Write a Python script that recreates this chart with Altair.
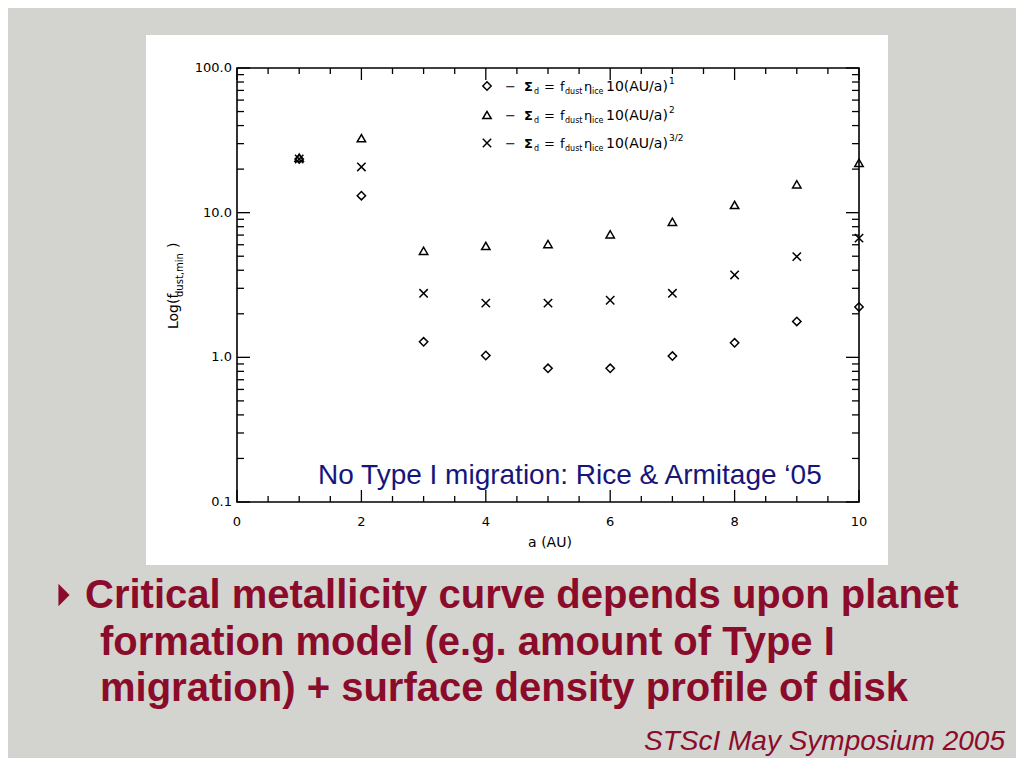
import altair as alt
import pandas as pd

# ---------------- data ----------------
a_au = [1, 2, 3, 4, 5, 6, 7, 8, 9, 10]
f_sigma_p1 = [23.5, 13.1, 1.28, 1.03, 0.84, 0.84, 1.02, 1.26, 1.77, 2.23]    # diamonds
f_sigma_p2 = [24.0, 32.7, 5.45, 5.89, 6.07, 7.08, 8.65, 11.3, 15.7, 22.1]    # triangles
f_sigma_p32 = [23.5, 20.7, 2.77, 2.37, 2.37, 2.48, 2.77, 3.71, 4.97, 6.67]   # crosses

series_names = ["p1", "p2", "p32"]
sup_labels = ["1", "2", "3/2"]

x_major_ticks = [0, 2, 4, 6, 8, 10]
x_tick_labels = ["0", "2", "4", "6", "8", "10"]
x_minor_ticks = [0.5, 1, 1.5, 2.5, 3, 3.5, 4.5, 5, 5.5, 6.5, 7, 7.5, 8.5, 9, 9.5]
y_major_ticks = [0.1, 1, 10, 100]
y_tick_labels = ["0.1", "1.0", "10.0", "100.0"]
y_minor_ticks = [0.2, 0.3, 0.4, 0.5, 0.6, 0.7, 0.8, 0.9,
                 2, 3, 4, 5, 6, 7, 8, 9,
                 20, 30, 40, 50, 60, 70, 80, 90]

bullet_lines = ["Critical metallicity curve depends upon planet",
                "formation model (e.g. amount of Type I",
                "migration) + surface density profile of disk"]
note_text = "No Type I migration: Rice & Armitage \u201805"
footer_text = "STScI May Symposium 2005"

# ---------------- layout ----------------
W, H = 622, 434
RED = "#8b0b2b"
NAVY = "#16167a"
AXFONT = "DejaVu Sans"
XSHAPE = "M-1,-1L1,1M-1,1L1,-1"

rows = []
for name, vals in zip(series_names, [f_sigma_p1, f_sigma_p2, f_sigma_p32]):
    for a, v in zip(a_au, vals):
        rows.append({"a": a, "f": v, "s": name})
df = pd.DataFrame(rows)

xs = alt.Scale(domain=[0, 10], nice=False, zero=False)
ys = alt.Scale(type="log", domain=[0.1, 100], nice=False)
one = alt.Data(values=[{"k": 0}])


def txt(text, x, y, size, color="black", align="left", baseline="alphabetic",
        angle=0, weight="normal", style="normal", font=AXFONT):
    return alt.Chart(one).mark_text(
        text=text, align=align, baseline=baseline, fontSize=size, font=font,
        color=color, angle=angle, fontWeight=weight, fontStyle=style
    ).encode(x=alt.value(x), y=alt.value(y))


layers = []

# white panel behind the plot
layers.append(alt.Chart(one).mark_rect(color="white").encode(
    x=alt.value(-91), x2=alt.value(651), y=alt.value(-33), y2=alt.value(497)))


# inward ticks on all four sides
def xticks(vals, length):
    d = pd.DataFrame({"v": vals})
    b = alt.Chart(d).mark_rule(color="black", strokeWidth=1.3)
    return [b.encode(x=alt.X("v:Q", scale=xs, axis=None), y=alt.value(H), y2=alt.value(H - length)),
            b.encode(x=alt.X("v:Q", scale=xs, axis=None), y=alt.value(0), y2=alt.value(length))]


def yticks(vals, length):
    d = pd.DataFrame({"v": vals})
    b = alt.Chart(d).mark_rule(color="black", strokeWidth=1.3)
    return [b.encode(y=alt.Y("v:Q", scale=ys, axis=None), x=alt.value(0), x2=alt.value(length)),
            b.encode(y=alt.Y("v:Q", scale=ys, axis=None), x=alt.value(W), x2=alt.value(W - length))]


layers += xticks(x_major_ticks, 12) + xticks(x_minor_ticks, 6)
layers += yticks(y_major_ticks, 13) + yticks(y_minor_ticks, 7)

# tick labels (through the scales)
xlab = pd.DataFrame({"v": x_major_ticks, "t": x_tick_labels})
layers.append(alt.Chart(xlab).mark_text(font=AXFONT, fontSize=13, color="black",
                                        baseline="middle", align="center").encode(
    x=alt.X("v:Q", scale=xs, axis=None), y=alt.value(H + 20), text="t:N"))
ylab = pd.DataFrame({"v": y_major_ticks, "t": y_tick_labels})
layers.append(alt.Chart(ylab).mark_text(font=AXFONT, fontSize=13, color="black",
                                        baseline="middle", align="right").encode(
    y=alt.Y("v:Q", scale=ys, axis=None), x=alt.value(-5), text="t:N"))

# frame
layers.append(alt.Chart(one).mark_rect(filled=False, stroke="black", strokeWidth=1.6).encode(
    x=alt.value(0), x2=alt.value(W), y=alt.value(0), y2=alt.value(H)))

# data points
points = alt.Chart(df).mark_point(filled=False, color="black", strokeWidth=1.5, size=70, opacity=1).encode(
    x=alt.X("a:Q", scale=xs, axis=None),
    y=alt.Y("f:Q", scale=ys, axis=None),
    shape=alt.Shape("s:N", scale=alt.Scale(domain=series_names,
                                           range=["diamond", "triangle-up", XSHAPE]), legend=None),
)
layers.append(points)

# axis titles
layers.append(txt("a (AU)", 313, 475, 14, baseline="middle", align="center"))
layers.append(txt("Log(f", -59, 261, 14, angle=270))
layers.append(txt("dust,min", -54, 229, 10, angle=270))
layers.append(txt(")", -59, 180, 14, angle=270))

# in-plot legend
legend_rows_y = [18, 47, 75]
legend_shapes = ["diamond", "triangle-up", XSHAPE]
for ry, shp, sup in zip(legend_rows_y, legend_shapes, sup_labels):
    layers.append(alt.Chart(one).mark_point(filled=False, color="black", strokeWidth=1.5, size=70,
                                            opacity=1, shape=shp).encode(
        x=alt.value(250), y=alt.value(ry)))
    base = ry + 5
    layers.append(txt("\u2212", 268, base, 13))
    layers.append(txt("\u03a3", 287, base, 13, weight="bold"))
    layers.append(txt("d", 297, base + 3, 8))
    layers.append(txt("=", 307, base, 13))
    layers.append(txt("f", 323, base, 13))
    layers.append(txt("dust", 328, base + 3, 8))
    layers.append(txt("\u03b7", 347, base, 13))
    layers.append(txt("ice", 355, base + 3, 8))
    layers.append(txt("10(AU/a)", 369, base, 14))
    layers.append(txt(sup, 432, base - 7, 9))

# annotation inside plot
layers.append(txt(note_text, 81, 416, 28, color=NAVY, font="Liberation Sans"))

# slide text
layers.append(alt.Chart(one).mark_point(filled=True, color=RED, opacity=1, size=500,
                                        shape="M-0.5,-1L0.5,0L-0.5,1Z").encode(
    x=alt.value(-173), y=alt.value(527)))
layers.append(txt(bullet_lines[0], -152, 540, 40, color=RED, weight="bold", font="Liberation Sans"))
layers.append(txt(bullet_lines[1], -137, 587, 40, color=RED, weight="bold", font="Liberation Sans"))
layers.append(txt(bullet_lines[2], -137, 633, 40, color=RED, weight="bold", font="Liberation Sans"))
layers.append(txt(footer_text, 768, 682, 28, color=RED, style="italic", align="right",
                  font="Liberation Sans"))

chart = alt.layer(*layers).properties(
    width=W, height=H,
    padding={"left": 229, "top": 60, "right": 157, "bottom": 256},
    autosize=alt.AutoSizeParams(type="none"),
).configure(background="#d3d4cf").configure_view(stroke=None)

chart.save("out.html", embed_options={"renderer": "svg", "actions": False})
